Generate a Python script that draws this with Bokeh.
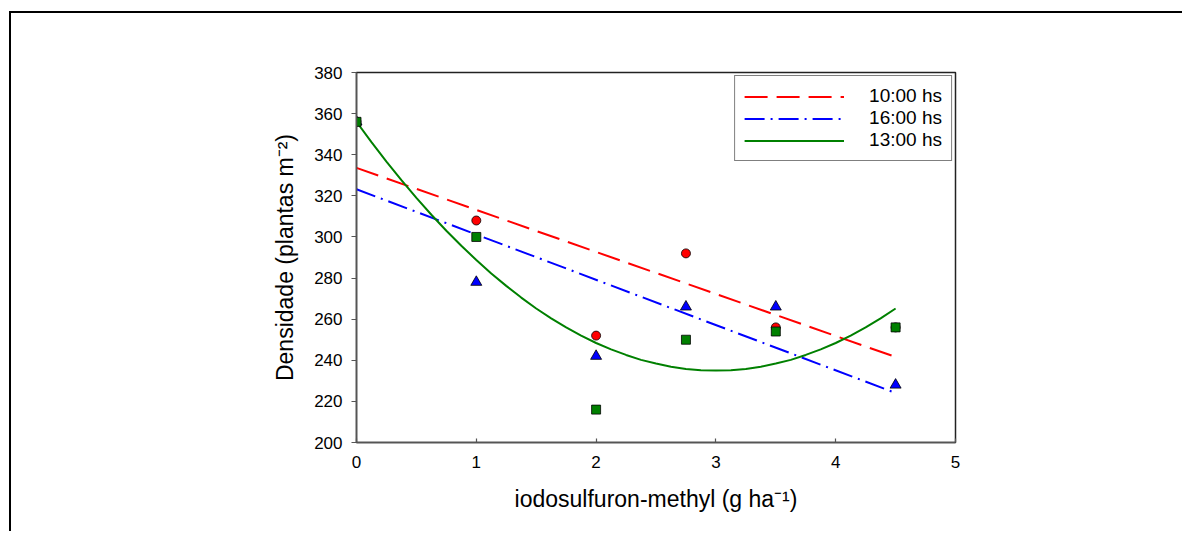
from bokeh.plotting import figure
from bokeh.models import Legend, LegendItem, FixedTicker, Range1d
from bokeh.embed import file_html
from bokeh.resources import INLINE

# ---- data ----
dose = [0, 1, 2, 2.75, 3.5, 4.5]
dens_10h = [356, 308, 252, 292, 256, 256]
dens_16h = [356, 278, 242, 266, 266, 228]
dens_13h = [356, 300, 216, 250, 254, 256]

# fitted regression lines
fit_x_linear = [0, 4.5]
fit_10h = [333.6, 241.6]
fit_16h = [323.2, 224.1]
fit_x_curve = [0, 0.125, 0.25, 0.375, 0.5, 0.625, 0.75, 0.875, 1, 1.125,
               1.25, 1.375, 1.5, 1.625, 1.75, 1.875, 2, 2.125, 2.25, 2.375,
               2.5, 2.625, 2.75, 2.875, 3, 3.125, 3.25, 3.375, 3.5, 3.625,
               3.75, 3.875, 4, 4.125, 4.25, 4.375, 4.5]
fit_13h = [356.0, 346.1, 336.6, 327.6, 319.0, 310.8, 303.0, 295.7, 288.8, 282.2,
           276.2, 270.5, 265.2, 260.4, 256.0, 252.0, 248.4, 245.3, 242.6, 240.2,
           238.4, 236.9, 235.8, 235.2, 235.0, 235.2, 235.8, 236.9, 238.4, 240.2,
           242.6, 245.3, 248.4, 252.0, 256.0, 260.4, 265.2]

x_ticks = [0, 1, 2, 3, 4, 5]
y_ticks = [200, 220, 240, 260, 280, 300, 320, 340, 360, 380]

labels = ["10:00 hs", "16:00 hs", "13:00 hs"]
x_title = "iodosulfuron-methyl (g ha\u207b\u00b9)"
y_title = "Densidade (plantas m\u207b\u00b2)"

FONT = "Liberation Sans"

p = figure(width=1173, height=520, output_backend="svg", toolbar_location=None,
           x_range=Range1d(0, 5), y_range=Range1d(200, 380),
           min_border_left=345, min_border_right=229,
           min_border_top=59, min_border_bottom=91)
p.styles = {"border-top": "2px solid black", "border-left": "2px solid black",
            "margin-top": "11px", "margin-left": "9px"}

p.grid.visible = False
p.outline_line_color = "#222222"
p.outline_line_width = 1.5
p.background_fill_color = "white"
p.border_fill_color = "white"

p.xaxis.ticker = FixedTicker(ticks=x_ticks)
p.yaxis.ticker = FixedTicker(ticks=y_ticks)
for ax in (p.xaxis, p.yaxis):
    ax.axis_line_color = "#555555"
    ax.axis_line_width = 1.5
    ax.major_tick_line_color = "#555555"
    ax.major_tick_line_width = 1.2
    ax.minor_tick_line_color = None
    ax.major_label_text_font = FONT
    ax.major_label_text_font_size = "17px"
    ax.major_label_text_color = "black"
    ax.axis_label_text_font = FONT
    ax.axis_label_text_font_size = "23px"
    ax.axis_label_text_font_style = "normal"
    ax.axis_label_text_color = "black"

p.xaxis.major_tick_in = 4
p.xaxis.major_tick_out = 0
p.xaxis.major_label_standoff = 13
p.xaxis.axis_label = x_title
p.xaxis.axis_label_standoff = 15

p.yaxis.major_tick_in = 0
p.yaxis.major_tick_out = 5
p.yaxis.major_label_standoff = 9
p.yaxis.axis_label = y_title
p.yaxis.axis_label_standoff = 13

# fitted lines
r10 = p.line(fit_x_linear, fit_10h, line_color="#ff0000", line_width=2, line_dash="23 9")
r16 = p.line(fit_x_linear, fit_16h, line_color="#0000ff", line_width=2, line_dash="20 6 2 6")
r13 = p.line(fit_x_curve, fit_13h, line_color="#008000", line_width=2)

# observed points
p.scatter(dose, dens_10h, marker="circle", size=9, fill_color="#ff0000",
          line_color="black", line_width=0.8)
p.scatter(dose, dens_16h, marker="triangle", size=11, fill_color="#0000ff",
          line_color="black", line_width=0.8)
p.scatter(dose, dens_13h, marker="square", size=9, fill_color="#008000",
          line_color="black", line_width=0.8)

legend = Legend(items=[LegendItem(label=labels[0], renderers=[r10]),
                       LegendItem(label=labels[1], renderers=[r16]),
                       LegendItem(label=labels[2], renderers=[r13])],
                location="top_right", margin=3, padding=9, spacing=0,
                glyph_width=100, glyph_height=21, label_height=21,
                label_standoff=25,
                label_text_font=FONT, label_text_font_size="19px",
                label_text_color="black",
                border_line_color="black", border_line_width=1,
                background_fill_color="white", background_fill_alpha=1)
p.add_layout(legend)

open("out.html", "w").write(file_html(p, INLINE))
